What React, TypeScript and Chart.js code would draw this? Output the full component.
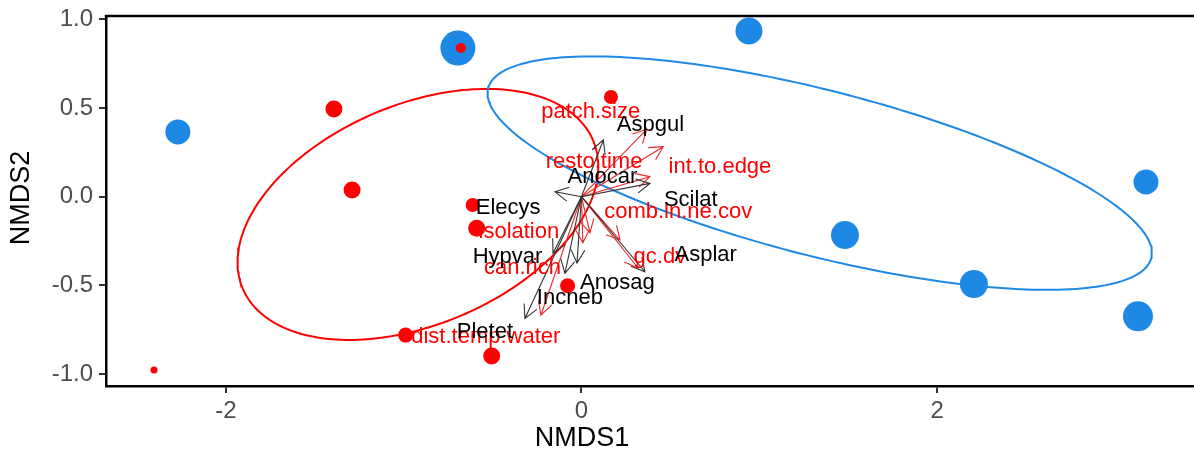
import React, { useEffect, useRef } from 'react';
import { Chart, registerables } from 'chart.js';

Chart.register(...registerables);

// ---- axis ticks ----
const xTicks = [-2, 0, 2];
const yTicks = [-1.0, -0.5, 0.0, 0.5, 1.0];
const xRange = [-2.674, 3.445];
const yRange = [-1.067, 1.0186];

// ---- site scores (blue group) ----
const blueX = [-2.27, -0.695, 0.942, 3.175, 1.482, 2.207, 3.13];
const blueY = [0.365, 0.838, 0.934, 0.083, -0.216, -0.492, -0.674];
const blueSize = [12.5, 17.5, 13.5, 12.5, 14, 14, 15];

// ---- site scores (red group) ----
const redX = [-0.678, -1.392, -1.29, 0.166, -0.612, -0.589, -0.078, -0.989, -0.505, -2.404];
const redY = [0.838, 0.494, 0.038, 0.562, -0.047, -0.178, -0.502, -0.78, -0.898, -0.977];
const redSize = [5, 8.5, 8.5, 7, 7, 8.5, 7.5, 7.5, 8.5, 3.5];

// ---- group ellipses: [centerX, centerY, semiMajor, semiMinor, angleDeg] ----
const redEllipse = [-0.92, -0.1, 1.07, 0.62, 23];
const blueEllipse = [1.34, 0.133, 1.925, 0.466, -14.4];

// ---- species vectors (black) ----
const speciesArrowX = [0.123, -0.149, 0.385, 0.357, -0.093, -0.318, -0.16, -0.025];
const speciesArrowY = [0.32, 0.028, 0.075, -0.423, -0.432, -0.686, -0.319, -0.374];
const speciesNames = ['Aspgul', 'Anocar', 'Scilat', 'Elecys', 'Hypvar', 'Asplar', 'Anosag', 'Incneb', 'Pletet'];
const speciesLabelX = [0.388, 0.118, 0.615, -0.412, -0.416, 0.699, 0.202, -0.065, -0.543];
const speciesLabelY = [0.404, 0.113, -0.02, -0.065, -0.338, -0.329, -0.488, -0.573, -0.761];

// ---- environmental vectors (red) ----
const envArrowX = [0.367, 0.46, 0.385, 0.217, 0.008, 0.048, -0.228, 0.318];
const envArrowY = [0.38, 0.282, 0.113, -0.244, -0.26, -0.204, -0.668, -0.402];
const envNames = ['patch.size', 'resto.time', 'int.to.edge', 'comb.ln.ne.cov', 'isolation', 'can.rich', 'gc.dv', 'dist.temp.water'];
const envLabelX = [0.052, 0.071, 0.779, 0.544, -0.352, -0.332, 0.441, -0.538];
const envLabelY = [0.479, 0.197, 0.169, -0.085, -0.197, -0.404, -0.338, -0.789];

const RED = '#ff0000';
const BLUE = '#1e88e5';
const FONT = '"Liberation Sans", Arial, sans-serif';

function ellipsePoints(p: number[]) {
  const [cx, cy, a, b, deg] = p;
  const th = (deg * Math.PI) / 180;
  const pts: { x: number; y: number }[] = [];
  const n = 240;
  for (let i = 0; i <= n; i++) {
    const t = (i / n) * Math.PI * 2;
    const u = a * Math.cos(t);
    const v = b * Math.sin(t);
    pts.push({ x: cx + u * Math.cos(th) - v * Math.sin(th), y: cy + u * Math.sin(th) + v * Math.cos(th) });
  }
  return pts;
}

const overlayPlugin = {
  id: 'ordOverlay',
  afterDatasetsDraw(chart: any) {
    const { ctx, chartArea, scales } = chart;
    const xs = scales.x;
    const ys = scales.y;
    const ox = xs.getPixelForValue(0);
    const oy = ys.getPixelForValue(0);

    const arrow = (tx: number, ty: number, color: string, lw: number) => {
      const px = xs.getPixelForValue(tx);
      const py = ys.getPixelForValue(ty);
      const ang = Math.atan2(py - oy, px - ox);
      const head = 15;
      const spread = (28 * Math.PI) / 180;
      ctx.save();
      ctx.strokeStyle = color;
      ctx.lineWidth = lw;
      ctx.beginPath();
      ctx.moveTo(ox, oy);
      ctx.lineTo(px, py);
      ctx.moveTo(px - head * Math.cos(ang - spread), py - head * Math.sin(ang - spread));
      ctx.lineTo(px, py);
      ctx.lineTo(px - head * Math.cos(ang + spread), py - head * Math.sin(ang + spread));
      ctx.stroke();
      ctx.restore();
    };

    ctx.save();
    ctx.beginPath();
    ctx.rect(chartArea.left, chartArea.top, chartArea.right - chartArea.left, chartArea.bottom - chartArea.top);
    ctx.clip();
    envArrowX.forEach((x, i) => arrow(x, envArrowY[i], '#e8282a', 1.1));
    speciesArrowX.forEach((x, i) => arrow(x, speciesArrowY[i], '#333333', 1.1));

    ctx.font = `22px ${FONT}`;
    ctx.textAlign = 'center';
    ctx.textBaseline = 'middle';
    ctx.fillStyle = RED;
    envNames.forEach((n, i) => ctx.fillText(n, xs.getPixelForValue(envLabelX[i]), ys.getPixelForValue(envLabelY[i])));
    ctx.fillStyle = '#000000';
    speciesNames.forEach((n, i) => ctx.fillText(n, xs.getPixelForValue(speciesLabelX[i]), ys.getPixelForValue(speciesLabelY[i])));
    ctx.restore();

    // top panel line
    ctx.save();
    ctx.strokeStyle = '#000';
    ctx.lineWidth = 2.5;
    ctx.beginPath();
    ctx.moveTo(chartArea.left - 1.25, chartArea.top);
    ctx.lineTo(chart.width, chartArea.top);
    ctx.stroke();
    ctx.restore();

    // axis titles
    ctx.save();
    ctx.fillStyle = '#000';
    ctx.font = `27px ${FONT}`;
    ctx.textAlign = 'center';
    ctx.textBaseline = 'middle';
    ctx.fillText('NMDS1', 582, 439);
    ctx.translate(22, 198);
    ctx.rotate(-Math.PI / 2);
    ctx.fillText('NMDS2', 0, 0);
    ctx.restore();
  },
};

export default function App() {
  const ref = useRef<HTMLCanvasElement>(null);
  useEffect(() => {
    const prev = document.body.style.margin;
    document.body.style.margin = '0';
    const chart = new Chart(ref.current!, {
      type: 'scatter',
      data: {
        datasets: [
          {
            label: 'red ellipse',
            data: ellipsePoints(redEllipse),
            showLine: true,
            pointRadius: 0,
            borderColor: RED,
            borderWidth: 2,
            fill: false,
            order: 5,
          },
          {
            label: 'blue ellipse',
            data: ellipsePoints(blueEllipse),
            showLine: true,
            pointRadius: 0,
            borderColor: BLUE,
            borderWidth: 2,
            fill: false,
            order: 4,
          },
          {
            label: 'blue sites',
            data: blueX.map((x, i) => ({ x, y: blueY[i] })),
            pointRadius: blueSize,
            pointBackgroundColor: BLUE,
            pointBorderWidth: 0,
            borderColor: BLUE,
            order: 3,
          },
          {
            label: 'red sites',
            data: redX.map((x, i) => ({ x, y: redY[i] })),
            pointRadius: redSize,
            pointBackgroundColor: RED,
            pointBorderWidth: 0,
            borderColor: RED,
            order: 2,
          },
        ],
      } as any,
      options: {
        animation: false,
        responsive: false,
        maintainAspectRatio: false,
        layout: { autoPadding: false, padding: { left: 0, top: 16, right: 0, bottom: 0 } },
        plugins: { legend: { display: false }, tooltip: { enabled: false } },
        scales: {
          x: {
            type: 'linear',
            min: xRange[0],
            max: xRange[1],
            afterBuildTicks: (s: any) => {
              s.ticks = xTicks.map((v) => ({ value: v }));
            },
            afterFit: (s: any) => {
              s.height = 69;
              s.paddingLeft = 0;
              s.paddingRight = 0;
              s.paddingTop = 0;
              s.paddingBottom = 0;
            },
            ticks: {
              callback: (v: any) => String(v),
              font: { size: 24, family: FONT },
              color: '#4d4d4d',
              padding: 4,
              maxRotation: 0,
            },
            grid: { display: true, drawOnChartArea: false, drawTicks: true, tickLength: 7, color: '#333333', lineWidth: 2 },
            border: { display: true, color: '#000', width: 2.5 },
          },
          y: {
            type: 'linear',
            min: yRange[0],
            max: yRange[1],
            afterBuildTicks: (s: any) => {
              s.ticks = yTicks.map((v) => ({ value: v }));
            },
            afterFit: (s: any) => {
              s.width = 106;
              s.paddingLeft = 0;
              s.paddingRight = 0;
              s.paddingTop = 0;
              s.paddingBottom = 0;
            },
            ticks: {
              callback: (v: any) => Number(v).toFixed(1),
              font: { size: 24, family: FONT },
              color: '#4d4d4d',
              padding: 6,
            },
            grid: { display: true, drawOnChartArea: false, drawTicks: true, tickLength: 7, color: '#333333', lineWidth: 2 },
            border: { display: true, color: '#000', width: 2.5 },
          },
        },
      } as any,
      plugins: [overlayPlugin],
    });
    return () => {
      chart.destroy();
      document.body.style.margin = prev;
    };
  }, []);
  return (
    <div style={{ width: 1194, height: 455, position: 'relative' }}>
      <canvas ref={ref} width={1194} height={455} style={{ display: 'block', width: 1194, height: 455 }} />
    </div>
  );
}
